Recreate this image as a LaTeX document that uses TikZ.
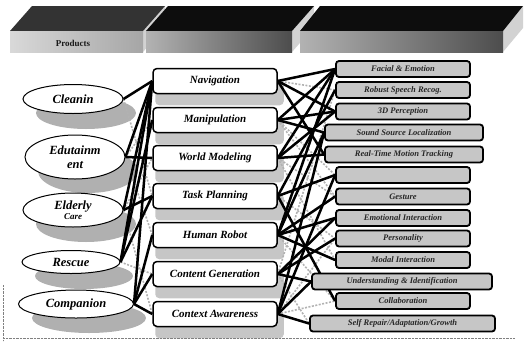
\documentclass[tikz,border=0pt]{standalone}
\usepackage{fontspec}
\setmainfont{Liberation Serif}
\usetikzlibrary{shapes.geometric,calc,backgrounds}
\tikzset{
  prod/.style={ellipse, draw=black, line width=1pt, fill=white,
    minimum width=100pt, minimum height=30pt, inner sep=0pt, align=center,
    font=\bfseries\itshape\fontsize{12.5}{12.5}\selectfont},
  func/.style={rectangle, rounded corners=4pt, draw=black, line width=1.5pt, fill=white,
    minimum width=124pt, minimum height=25pt, inner sep=0pt,
    font=\bfseries\itshape\fontsize{11}{11}\selectfont},
  tech/.style={rectangle, rounded corners=3pt, draw=black, line width=1.8pt, fill=gray!45,
    minimum height=16pt, inner sep=0pt, text=black!85,
    font=\bfseries\itshape\fontsize{8.5}{8.5}\selectfont},
  link/.style={line width=2.5pt, black},
  weak/.style={line width=1.6pt, gray!60, dash pattern=on 2pt off 1.5pt},
  shad/.style={fill=gray!62},
}
\begin{document}
\begin{tikzpicture}[x=1pt,y=-1pt]
\useasboundingbox (0,0) rectangle (525,341);
% header slabs
\fill[gray!35] (143,31) -- (165,6) -- (165,27) -- (143,52) -- cycle;
\fill[black!80] (10,31) -- (32,6) -- (165,6) -- (143,31) -- cycle;
\shade[left color=gray!30, right color=gray!70] (10,31) rectangle (143,52);
\node[font=\bfseries\fontsize{9}{9}\selectfont, text=black!90] (hp) at (73,43) {Products};
\fill[gray!35] (292,31) -- (314,6) -- (314,27) -- (292,52) -- cycle;
\fill[black!95] (146,31) -- (168,6) -- (314,6) -- (292,31) -- cycle;
\shade[left color=gray!60, right color=black!70] (146,31) rectangle (292,52);
\fill[gray!35] (503,31) -- (523,6) -- (523,28) -- (503,52) -- cycle;
\fill[black!95] (300,31) -- (320,6) -- (523,6) -- (503,31) -- cycle;
\shade[left color=gray!60, right color=black!70] (300,31) rectangle (503,52);

% products
\node[prod, minimum height=29pt] (pc) at (73,99) {Cleanin};
\node[prod, minimum height=44pt] (pe) at (75,157) {Edutainm\\[1pt]ent};
\node[prod, minimum height=34pt] (pel) at (73,210) {Elderly\\[-2pt]{\fontsize{9}{9}\selectfont Care}};
\node[prod, minimum width=98pt, minimum height=23pt] (pr) at (71,262) {Rescue};
\node[prod, minimum width=115pt, minimum height=28pt] (pco) at (76,304) {Companion};

% functions
\node[func] (f1) at (215,81) {Navigation};
\node[func] (f2) at (215,120) {Manipulation};
\node[func] (f3) at (215,158) {World Modeling};
\node[func] (f4) at (215,196) {Task Planning};
\node[func] (f5) at (215,235) {Human Robot};
\node[func] (f6) at (215,274) {Content Generation};
\node[func] (f7) at (215,314) {Context Awareness};

% technologies
\node[tech, minimum width=134pt] (t1) at (403,69) {Facial \& Emotion};
\node[tech, minimum width=134pt] (t2) at (403,90) {Robust Speech Recog.};
\node[tech, minimum width=134pt] (t3) at (403,111.5) {3D Perception};
\node[tech, minimum width=158pt] (t4) at (404,132.5) {Sound Source Localization};
\node[tech, minimum width=158pt] (t5) at (404,154.5) {Real-Time Motion Tracking};
\node[tech, minimum width=134pt] (t6) at (403,175) {\phantom{x}};
\node[tech, minimum width=134pt] (t7) at (403,196.5) {Gesture};
\node[tech, minimum width=134pt] (t8) at (403,218) {Emotional Interaction};
\node[tech, minimum width=134pt] (t9) at (403,238.5) {Personality};
\node[tech, minimum width=134pt] (t10) at (403,260) {Modal Interaction};
\node[tech, minimum width=180pt] (t11) at (402,281.5) {Understanding \& Identification};
\node[tech, minimum width=134pt] (t12) at (403,301) {Collaboration};
\node[tech, minimum width=185pt] (t13) at (402.5,323.5) {Self Repair/Adaptation/Growth};

\begin{scope}[on background layer]
  % shadows of products
  \foreach \n/\rx/\ry in {pc/50/16, pe/50/22, pel/50/18, pr/49/13, pco/57/15}
    \fill[shad] ($(\n)+(13,14)$) ellipse [x radius=\rx, y radius=\ry];
  % shadows of functions
  \foreach \n in {f1,f2,f3,f4,f5,f6,f7}
    \fill[gray!45, rounded corners=4pt] ($(\n.north west)+(3,11)$) rectangle ($(\n.south east)+(6,11)$);
  % weak connectors
  \foreach \a/\b in {pe/f2, pel/f3, pr/f6, pc/f4, pe/f5, pel/f7}
    \draw[weak] (\a.east) -- (\b.west);
  \foreach \a/\b in {f1/t2, f6/t2, f2/t7, f3/t10, f4/t9, f6/t13, f7/t12, f7/t9, f5/t12, f3/t7, f2/t6}
    \draw[weak] (\a.east) -- (\b.west);
  % products -> functions
  \foreach \a/\b in {pc/f1, pe/f3, pe/f1, pel/f4, pel/f1, pr/f1, pr/f2, pr/f4,
    pco/f1, pco/f5, pco/f6, pco/f7}
    \draw[link] (\a.east) -- (\b.west);
  % functions -> technologies
  \foreach \a/\b in {f1/t1, f1/t3, f1/t5, f2/t1, f2/t3, f2/t4, f3/t1, f3/t3, f3/t5,
    f4/t2, f4/t6, f4/t12, f5/t1, f5/t4, f5/t7, f5/t8, f5/t10,
    f6/t8, f6/t9, f6/t11, f7/t4, f7/t6, f7/t11, f7/t13}
    \draw[link] (\a.east) -- (\b.west);
\end{scope}

% dotted frame remains
\draw[gray, densely dotted] (3,285) -- (3,341);
\draw[gray, densely dotted] (3,338) -- (515,338);
\end{tikzpicture}
\end{document}
